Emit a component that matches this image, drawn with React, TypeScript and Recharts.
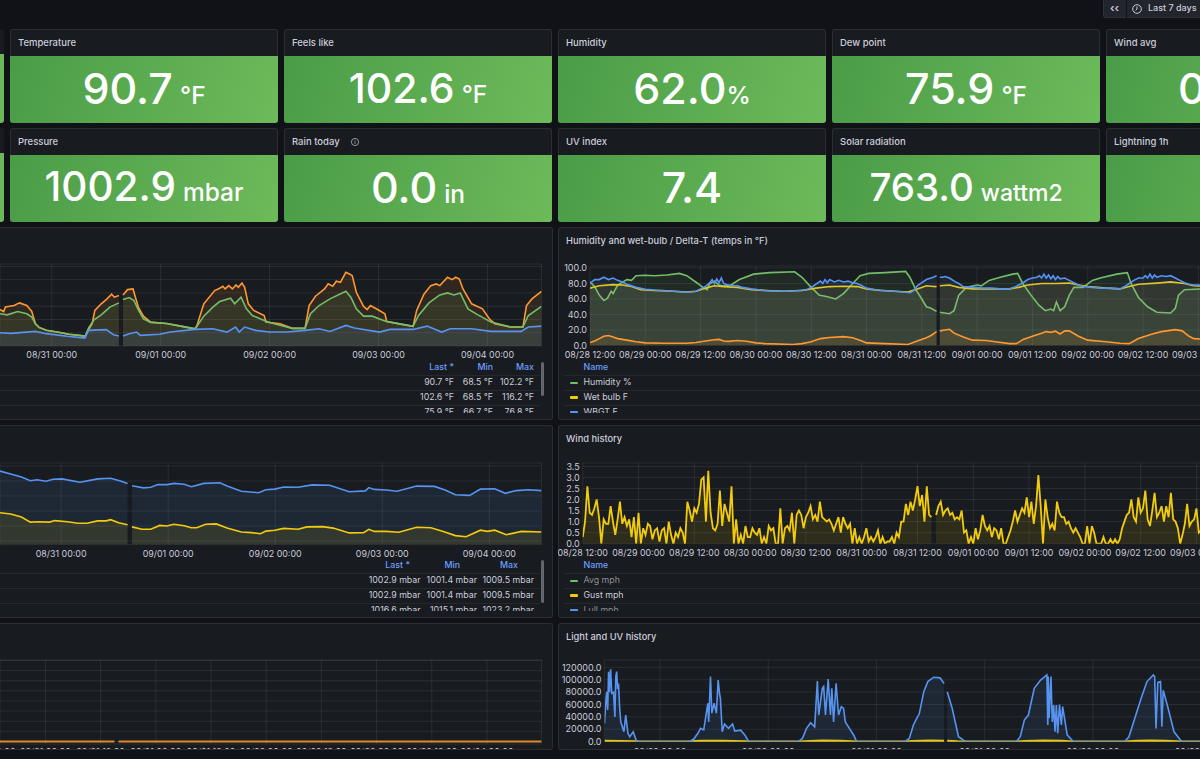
import React from "react";
import { ComposedChart, Area, XAxis, YAxis, CartesianGrid } from "recharts";

type Pair = [number, number | null];

// ---- Temperature history (hours since 08/28 00:00, °F)
const feelsLike: Pair[] = [[60.6,87.5],[61.4,86],[61.8,89.5],[63.7,90.5],[64.9,92.5],[66.5,90.5],[67.6,86],[68.4,76.8],[69.2,74],[70.8,71.8],[73.5,70.3],[75.8,68.8],[79.4,67.5],[79.7,70],[80.9,76.8],[81.5,86.8],[82.9,91.8],[84,95],[85.2,99],[85.8,96.8],[86.8,98],[87.2,null],[87.7,98.5],[88.7,102.5],[89.9,103],[91.1,89],[92.2,82.5],[93.8,78],[97.3,77],[100.4,75],[103.6,73],[104,75.5],[105.5,91.8],[107.9,101.8],[109,103.5],[109.7,105],[110.2,103],[111,105.5],[111.8,103],[112.6,106],[113.1,104.3],[113.9,107.5],[114.5,104.3],[115.3,91.8],[116.5,86.8],[118.8,83],[119.2,78],[122.3,76.8],[125,73.3],[127.8,73.3],[128.7,90.5],[130.1,97.5],[132.1,103],[132.9,106.8],[133.9,105],[134.7,108.8],[135.6,108],[136.8,115.5],[137.6,114.3],[138.2,113],[139.1,100.5],[140.7,89.8],[141.5,87.5],[142.2,90.5],[143.8,87.5],[145.4,84.3],[145.8,78.5],[148.9,76.5],[151.6,74.8],[152.4,86.8],[154,99],[155.5,105.5],[156.7,106.8],[157.5,105.5],[159.2,111.8],[160.2,110],[161,111.8],[161.8,110.5],[162.6,103],[164.5,91.8],[166.9,88],[168.4,80.5],[169.6,76.8],[173.1,74.3],[175.8,74.3],[176.6,90.5],[177.8,95.5],[179.9,101.2]];
const temperature: Pair[] = [[60.6,84.3],[62.2,83.5],[64.5,86],[66.5,84.3],[67.6,81.8],[68.4,76.8],[69.2,74],[70.8,71.8],[73.5,70.3],[75.8,68.8],[79.4,67.5],[80.1,73.5],[81.3,79.8],[82.9,83.5],[84.8,89.3],[86.8,92.5],[87.2,null],[87.7,95],[89.1,96.5],[90.1,94.3],[91.1,87],[92.2,80.5],[93.8,77.8],[97.3,77],[100.4,75],[103.6,73],[105.5,82.5],[107.5,89.3],[109,93.5],[111.4,96],[112.3,91.8],[113.7,96.8],[114.9,88],[116.2,83],[118.8,79.3],[120.4,77.3],[125,73.3],[127.8,73.3],[129,84.3],[130.9,90.5],[133.3,95.5],[136.8,101.3],[137.9,96.8],[139.1,88],[140.7,82.5],[142.6,82.5],[145.4,78.8],[148.9,76.5],[151.6,74.8],[152.8,83],[155.1,92.5],[157.5,98.5],[159.2,100],[160.6,98.5],[162,100],[163.7,88],[165.7,83.8],[168.8,78],[173.1,74.3],[175.8,74.3],[177,83],[179.9,89.8]];
const dewPoint: Pair[] = [[60.6,70],[63,69.5],[68.4,71],[70.8,69.3],[75.4,67.3],[79.3,66],[80.1,71.8],[84,72.3],[85.6,68.5],[86.8,67.5],[87.2,null],[87.7,67.5],[89.1,69.3],[90.7,70.5],[91.5,68],[95.8,68.8],[98.1,70.5],[103.6,72.5],[107.5,73],[110.6,70.5],[112.5,74.3],[113.3,70.5],[114.5,74.3],[116.9,71.8],[120,70.5],[123.9,70.5],[127.8,71.8],[130.9,73],[133.3,71],[136.8,75.5],[138.7,73.5],[144.2,70.5],[146.5,72.5],[151.6,72.5],[154.7,75],[157.9,70.5],[159.8,73],[164.5,73],[168.8,71],[175.4,71],[177,74.3],[179.9,75]];

// ---- Humidity and wet-bulb / Delta-T
const humidity: Pair[] = [[12,82],[13,76],[14,65],[15,58],[15.8,61],[16.6,70],[17,67],[18,78],[20,85],[21,84],[22,90],[24,90.5],[26,90],[28.7,91],[31.4,93],[33,90],[35.4,80],[36.5,75],[37.4,72],[38,80],[39,83],[40,78],[40.7,77],[42.6,78],[44.4,85],[47.5,92],[51,94],[56.4,95],[58,88],[60,75],[61.7,65],[63.5,63],[65.3,60],[67,67],[69,80],[70.6,90],[72.5,93],[76,94],[80.5,95.5],[81.4,88],[82.7,72],[84,60],[85,50],[86,48],[87.2,44],[87.5,null],[87.9,43],[90,41],[91,45],[92,65],[93.7,75],[96,78],[96.9,77],[98.6,84],[101,88],[103.7,92],[104.8,93],[105.9,80],[107.7,65],[109.4,52],[110.8,45],[112,47],[112.6,45],[113.2,56],[114,45],[115,50],[116,65],[117,75],[119,75],[121,84],[122.7,87],[126.3,92],[128.6,94],[129.4,80],[131,62],[133,50],[135,43],[138,42],[139,48],[139.7,65],[141,72],[145,73],[150,74]];
const wetBulb: Pair[] = [[12,74],[14,77],[17,78.5],[19,78],[21,76],[23,72],[26,71],[30,70],[33,69],[35,70],[37,74],[39,77],[41,76],[44,75],[47,72],[50,71],[54,70],[58,71],[61,74],[64,76],[67,76.5],[70,76],[72,73],[75,71],[78,70],[81,69],[83,73],[85,77],[86,76.5],[87.2,76],[87.5,null],[87.9,77],[90,78],[92,75],[95,73],[99,73],[103,73],[105,75],[107,78],[110,80],[113,80],[116,80.5],[118,78],[120,76],[124,74],[127,73],[129,76],[131,79],[135,80.5],[138,82],[141,80],[143,77],[147,76],[150,75]];
const wbgt: Pair[] = [[12,80],[13,85],[14,85],[15,88],[16,85],[17,87],[18,84],[19,82],[20,79],[22,75],[24,72.5],[26,71.5],[28,71],[30,70],[32,69],[34,69],[35,70],[36,73],[37,76],[38,81],[38.5,85],[39,80],[39.5,86],[40,81],[40.5,87],[41,80],[42,78],[43,77],[44,77],[45,75],[47,73],[49,71.5],[51,70.5],[53,70],[55,70],[57,71],[59,72],[60,75],[61,79],[62,83],[62.5,80],[63,85],[63.5,81],[64,85],[65,82],[66,84],[67,82],[68,83],[69,81],[70,80],[71,77],[72,74],[74,72],[76,71],[78,70],[80,69],[81.5,68],[82.5,72],[83,77],[84,81],[85,85],[86,87],[86.5,88],[87.2,90],[87.5,null],[87.9,88],[88.5,88],[89,89],[90,87],[91,83],[92,80],[93,76],[95,75],[97,74],[99,74],[101,73],[103,73],[104,75],[105,78],[106,81],[107,85],[108,87],[109,88],[109.5,90],[110,87],[110.5,92],[111,87],[111.5,91],[112,86],[112.5,90],[113,85],[113.5,89],[114,86],[115,87],[116,84],[117,81],[118,78],[119,76],[121,75],[123,74],[125,74],[127,73],[128,76],[129,80],[130,84],[131,87],[132,87],[132.5,90],[133,87],[133.5,92],[134,87],[134.5,91],[135,88],[136,90],[137,89],[138,90],[139,87],[140,84],[141,81],[142,79],[143,78],[145,78],[147,77],[150,75]];
const deltaT: Pair[] = [[12,4],[13,6],[14,9],[15,12],[16,13],[17,11],[18,9],[20,7],[22,5],[24,3.5],[28,3],[33,3],[35,4],[37,6],[39,7.5],[40,8],[41,6],[42,5.5],[44,6.5],[46,5.5],[48,3.5],[50,2.5],[56,1.5],[58,2.5],[60,5],[62,9],[64,10.5],[67,11.5],[69,10],[71,6],[72,3.5],[76,2.5],[81,1.5],[83,6],[85,10],[86,13],[87.2,18],[87.5,null],[87.9,19],[89,20],[90,21],[91,16],[93,11],[95,7],[98,6.5],[100,5],[103,2.5],[104.5,2.5],[106,8],[108,12],[110,16],[111,18],[112,17],[113,18.5],[114,15],[115,19],[116,19],[118,12],[120,7],[124,5],[127,3],[129,2.5],[131,9],[134,15],[136,18],[139,20.5],[140.5,19],[142,12],[143,9],[146,8],[150,7]];

// ---- Pressure history (mbar)
const stationPressure: Pair[] = [[58.3,1009.4],[60.7,1009],[63.1,1008],[65.1,1006.3],[67,1006.4],[69.4,1006.3],[70.6,1006.8],[73.4,1006.4],[75.8,1005.9],[77.8,1005.9],[80.2,1006.7],[82.1,1006.7],[83.1,1007.1],[84.9,1006.1],[86.9,1005.4],[87.4,null],[87.9,1004.7],[90.1,1003.9],[92.1,1003.9],[94.1,1005.2],[95.7,1005],[97.3,1005.6],[99.6,1005.1],[101.2,1004.4],[102.4,1004.4],[104.4,1005.6],[106.8,1005.7],[109.2,1004.3],[112.4,1003],[114.7,1002.8],[116.7,1002.4],[117.9,1003.3],[119.9,1003.6],[121.9,1004.2],[125.1,1003.9],[127.1,1004.7],[130.6,1004.8],[133,1004.3],[136.6,1002.7],[139.8,1002.8],[141,1003.9],[142.2,1003.2],[144.9,1003.2],[147.7,1002.9],[151.7,1004.6],[154.9,1004.4],[157.7,1003.2],[160.4,1001.8],[162.8,1001.4],[166,1003.6],[167.6,1003.2],[169.2,1003.6],[171.8,1002.1],[175.2,1003.2],[179.7,1003]];
const seaLevelPressure: Pair[] = [[58.3,1023.3],[60.7,1022.3],[63.1,1021.3],[65.1,1020.1],[66.6,1020.4],[68.6,1019.9],[70.2,1020.6],[72.2,1020.7],[76.2,1019.6],[80.2,1020.7],[83.1,1020.9],[85.3,1020],[86.9,1019.2],[87.4,null],[87.9,1018.4],[90.5,1017.7],[92.1,1017.9],[93.7,1018.8],[95.7,1018.8],[97.3,1019.2],[99.6,1018.9],[101.2,1018.1],[104,1019.2],[107.6,1019.4],[109.2,1018.3],[112.4,1016.6],[116.3,1016.1],[117.9,1017.1],[119.9,1017.3],[121.9,1018],[125.1,1017.9],[128.3,1018.7],[132.2,1018.6],[136.6,1016.4],[140.2,1016.7],[141,1017.8],[142.2,1017.2],[144.9,1017],[147.3,1016.6],[151.7,1018.3],[155.7,1018.2],[158.1,1017],[160.4,1015.4],[163.6,1015.2],[166,1017.3],[169.2,1017.4],[171.6,1015.9],[174,1016.8],[176.7,1017.1],[179.7,1016.8]];

// ---- Wind gust (mph), one reading every half hour from 08/28 12:00
const gustMph: (number | null)[] = [0.3,1.0,2.6,1.4,1.3,1.6,2.0,1.2,0.0,1.1,0.9,0.9,1.7,1.0,0.4,1.1,1.9,0.9,1.2,0.8,1.1,0.3,1.2,0.0,
1.4,0.0,0.7,0.4,0.9,0.8,0.2,0.6,0.7,0.1,0.6,0.7,0.0,1.0,0.4,0.0,0.5,0.3,0.7,0.5,0.0,1.9,1.5,1.0,
1.6,1.4,1.8,2.9,3.0,1.0,3.3,1.4,0.7,0.6,0.9,2.4,0.8,1.8,1.4,1.0,2.6,0.0,1.1,0.0,0.4,0.0,0.8,0.3,
0.3,0.7,0.5,0.4,0.7,0.0,0.3,0.0,0.8,0.6,0.7,0.0,0.0,1.6,0.0,0.7,0.8,0.6,1.4,0.0,1.3,1.5,1.3,0.7,
1.2,1.4,1.7,1.1,1.3,1.0,1.9,1.2,1.1,1.0,1.1,0.9,0.6,0.9,1.2,0.5,1.2,0.9,0.7,0.9,0.0,0.7,0.0,0.3,
0.0,0.3,0.7,0.1,0.3,0.1,0.3,0.6,0.0,0.3,0.0,0.1,0.1,0.3,0.0,0.5,0.3,1.0,1.0,1.8,1.3,1.9,1.5,2.0,
2.6,1.7,2.2,1.0,2.6,1.3,1.2,null,1.3,1.7,1.9,1.3,1.5,1.6,1.3,1.4,1.1,1.2,1.1,1.5,0.5,0.6,0.0,0.3,
0.0,0.7,0.2,0.6,1.3,0.8,0.6,0.8,0.3,0.7,0.6,0.2,0.7,0.0,0.0,0.3,0.6,1.0,1.5,1.0,1.3,1.6,1.4,2.1,
1.2,1.9,0.9,1.7,3.1,1.7,0.0,2.0,1.2,0.7,0.9,0.6,1.9,1.4,1.2,1.2,0.9,1.0,0.7,0.5,0.7,0.5,0.3,0.0,
0.0,0.8,0.0,0.8,0.5,0.0,0.0,0.0,0.3,0.0,0.0,0.2,0.0,0.2,0.0,0.2,0.7,1.0,1.3,1.4,2.0,1.2,1.0,2.1,
1.4,1.6,2.4,1.1,0.8,1.5,2.3,1.2,1.4,1.7,1.0,1.7,1.2,2.3,1.1,1.0,0.7,0.0,0.4,0.9,1.8,0.8,1.0,1.1,
1.6,0.5,0.6,1.2,0.8,1.4,0.9,0.0,0.6,1.1,0.8,1.0,0.9];

// ---- Light and UV
const illuminance: Pair[] = [[11.7,29600],[12.05,70000],[12.2,80700],[12.4,51000],[12.6,113000],[12.8,80000],[13.05,116700],[13.3,78000],[13.7,80000],[14,40000],[14.2,105000],[14.4,113000],[14.6,85000],[14.8,94000],[15.06,53800],[15.3,32000],[16,16000],[16.4,43000],[16.9,13500],[17.3,8000],[18.06,16000],[18.7,2700],[19.15,0],[30.5,0],[31.5,4300],[32.4,13500],[33,21500],[33.7,19000],[34.2,43000],[34.6,62000],[34.8,32000],[35.2,105000],[35.5,46000],[36,62000],[36.5,46000],[36.9,99500],[37.2,78000],[37.4,70000],[37.8,16000],[38.3,28500],[39.2,21500],[40.1,28500],[40.6,17000],[41.9,18500],[42.8,11000],[43.7,0],[54.7,0],[55.6,5400],[56.5,21500],[57.4,30700],[58.3,24000],[58.9,98000],[59.2,43000],[60,86000],[60.3,89000],[60.7,43000],[61.3,101000],[61.8,43000],[62.1,86000],[62.5,32000],[63.05,94000],[63.6,43000],[64.2,56500],[64.7,54000],[65.1,32000],[66,21500],[67,10000],[67.6,0],[78.3,0],[79.3,5400],[80.2,27000],[81.1,40000],[81.5,45000],[82.5,80700],[83.4,97000],[84.7,104000],[86.1,103000],[87,94000],[87.2,null],[87.7,80700],[88.8,53800],[90.2,8000],[91.8,0],[103,0],[103.9,8000],[104.8,35000],[105.7,43000],[107,86000],[108.4,99500],[109.8,107600],[110,27000],[110.1,105000],[110.3,38000],[110.7,105000],[111,32000],[111.3,59000],[111.6,16000],[111.9,59000],[112.2,13500],[112.6,60000],[113,27000],[113.3,56500],[114.3,11000],[115.7,0],[127,0],[128,8000],[129.3,38000],[130.7,70000],[132,97000],[133.4,107600],[133.7,105000],[134,21500],[134.4,95700],[135,97000],[135.3,24000],[135.6,83000],[136.6,56500],[138,16000],[139.4,2700],[139.8,0],[143.7,0],[150,0]];
const solarRadiation: Pair[] = [[11.7,900],[18.7,200],[19.2,0],[30.5,0],[31,400],[33,900],[36,1200],[38,1100],[43,200],[43.7,0],[54.7,0],[56,400],[60,1300],[64,1000],[67.6,0],[78.3,0],[80,500],[84,1300],[87,1200],[87.2,null],[87.7,1100],[90,300],[91.8,0],[103,0],[105,700],[109,1400],[113,900],[115.7,0],[127,0],[130,900],[133,1300],[136,1000],[139.8,0],[150,0]];
const flatSeries: Pair[] = [[62.13,0],[87,0],[87.2,null],[87.9,0],[179.85,0]];

// ---- Tick lists
const halfDayTicks = [12,24,36,48,60,72,84,96,108,120,132,144];
const dayTicksLeft = [72,96,120,144,168];
const dayTicksRight = [24,48,72,96,120,144];
const bottomLeftTicks = [60,72,84,96,108,120,132,144,156,168];
const humidityYTicks = [0,20,40,60,80,100];
const tempYTicks = [60,70,80,90,100,110,120];
const pressureYTicks = [1000,1005,1010,1015,1020,1025];
const windYTicks = [0,0.5,1,1.5,2,2.5,3,3.5];
const lightYTicks = [0,20000,40000,60000,80000,100000,120000];
const flatYTicks = [0,1,2,3,4,5,6,7,8];

// ---- Stat panels
const statsTop = [
  { title: "Temperature", value: "90.7", unit: "°F" },
  { title: "Feels like", value: "102.6", unit: "°F" },
  { title: "Humidity", value: "62.0", unit: "%" },
  { title: "Dew point", value: "75.9", unit: "°F" },
  { title: "Wind avg", value: "0.6", unit: "mph" },
];
const statsBottom = [
  { title: "Pressure", value: "1002.9", unit: "mbar" },
  { title: "Rain today", value: "0.0", unit: "in" },
  { title: "UV index", value: "7.4", unit: "" },
  { title: "Solar radiation", value: "763.0", unit: "wattm2" },
  { title: "Lightning 1h", value: "0", unit: "" },
];
const statLefts = [10, 284, 558, 832, 1106];
const valueFontSize: Record<string, number> = { "102.6": 41, "1002.9": 40.5, "763.0": 38.5 };

const tempRows = [["90.7 °F","68.5 °F","102.2 °F"],["102.6 °F","68.5 °F","116.2 °F"],["75.9 °F","66.7 °F","76.8 °F"]];
const pressureRows = [["1002.9 mbar","1001.4 mbar","1009.5 mbar"],["1002.9 mbar","1001.4 mbar","1009.5 mbar"],["1016.6 mbar","1015.1 mbar","1023.2 mbar"]];

const ORANGE = "#FF9830", GREEN = "#73BF69", BLUE = "#5794F2", YELLOW = "#F2CC0C";
const FONT = "Inter, 'Noto Sans', sans-serif";
const TEXT = "#ccccdc";
const HEAD = 8;

const pts = (p: Pair[]) => p.map(([t, v]) => ({ t, v }));
const gustPts = gustMph.map((v, i) => ({ t: 12 + i * 0.5, v }));

const pad = (n: number) => String(n).padStart(2, "0");
function timeLabel(t: number) {
  const d = new Date(Date.UTC(2023, 7, 28, t));
  return `${pad(d.getUTCMonth() + 1)}/${pad(d.getUTCDate())} ${pad(d.getUTCHours())}:00`;
}

type Series = { data: any[]; color: string; width?: number; opacity?: number };
function TimeChart(props: {
  left: number; top: number; plotLeft: number; plotWidth: number; plotHeight: number;
  clipHeight?: number; xDomain: [number, number]; yDomain: [number, number];
  xTicks: number[]; yTicks: number[]; series: Series[]; hideY?: boolean; margin?: number;
}) {
  const { left, top, plotLeft, plotWidth, plotHeight, clipHeight, xDomain, yDomain, xTicks, yTicks, series, hideY, margin } = props;
  const xTickStyle = { fill: TEXT, fontSize: 8.9, fontFamily: FONT };
  const yTickStyle = { fill: TEXT, fontSize: 9, fontFamily: FONT };
  const fullHeight = plotHeight + 24 + HEAD;
  return (
    <div style={{ position: "absolute", left, top: top - HEAD, width: plotLeft + plotWidth, height: clipHeight ? clipHeight + HEAD : fullHeight, overflow: clipHeight ? "hidden" : "visible" }}>
      <ComposedChart width={plotLeft + plotWidth} height={fullHeight} margin={{ top: HEAD, right: 0, bottom: 0, left: hideY ? plotLeft : 0 }} style={{ overflow: "visible" }}>
        <CartesianGrid stroke="rgba(204,204,220,0.1)" strokeWidth={1} />
        <XAxis type="number" dataKey="t" domain={xDomain} ticks={xTicks} interval={0} height={24} allowDataOverflow
          tickFormatter={timeLabel} tick={xTickStyle} tickLine={false} axisLine={false} tickMargin={margin ?? 3} tickSize={3} />
        <YAxis type="number" domain={yDomain} ticks={yTicks} interval={0} allowDataOverflow hide={hideY} width={hideY ? 0 : plotLeft}
          tickFormatter={(v: number) => v.toFixed(1)} tick={yTickStyle} tickLine={false} axisLine={false} tickSize={3} tickMargin={0} />
        {series.map((s, i) => (
          <Area key={i} data={s.data} dataKey="v" type="linear" stroke={s.color} strokeWidth={s.width ?? 1.6}
            fill={s.color} fillOpacity={s.opacity ?? 0.1} dot={false} activeDot={false} isAnimationActive={false} connectNulls={false} />
        ))}
      </ComposedChart>
    </div>
  );
}

const panelStyle = (left: number, top: number, width: number, height: number): React.CSSProperties => ({
  position: "absolute", left, top, width, height, boxSizing: "border-box", background: "#181b1f",
  border: "1px solid rgba(204,204,220,0.1)", borderRadius: 3,
});

function Stat({ left, top, title, value, unit, info }: { left: number; top: number; title: string; value: string; unit: string; info?: boolean }) {
  return (
    <div style={panelStyle(left, top, 268, 94)}>
      <div style={{ position: "absolute", left: 7, top: 6, fontFamily: FONT, fontSize: 9.5, fontWeight: 500, color: TEXT, lineHeight: "14px", whiteSpace: "nowrap" }}>{title}</div>
      {info && (
        <svg style={{ position: "absolute", left: 64, top: 7 }} width="12" height="12" viewBox="0 0 12 12">
          <circle cx="6" cy="6" r="3.6" fill="none" stroke="#9fa1ab" strokeWidth="0.9" />
          <line x1="6" y1="5.4" x2="6" y2="7.8" stroke="#9fa1ab" strokeWidth="0.9" />
          <circle cx="6" cy="4.2" r="0.5" fill="#9fa1ab" />
        </svg>
      )}
      <div style={{ position: "absolute", left: -1, right: -1, top: 26, bottom: -1, borderRadius: "0 0 3px 3px", background: "linear-gradient(105deg,#4a9c47,#6dba5a)", color: "#fff", fontFamily: FONT, display: "flex", justifyContent: "center", alignItems: "baseline", paddingTop: 7, boxSizing: "border-box", whiteSpace: "nowrap", lineHeight: "50px" }}>
        <span style={{ fontSize: valueFontSize[value] ?? 43, fontWeight: 500 }}>{value}</span>
        {unit && <span style={{ fontSize: unit === "wattm2" ? 23 : 24.5, fontWeight: 500, marginLeft: unit === "%" ? 0 : 7 }}>{unit}</span>}
      </div>
    </div>
  );
}

const txt = (left: number, top: number, s: string, extra: React.CSSProperties = {}) => (
  <div key={s + left} style={{ position: "absolute", left, top, fontFamily: FONT, fontSize: 8.8, color: TEXT, lineHeight: "12px", whiteSpace: "nowrap", ...extra }}>{s}</div>
);
const rightTxt = (right: number, top: number, s: string, extra: React.CSSProperties = {}) => (
  <div key={s + right + top} style={{ position: "absolute", left: right - 120, width: 120, textAlign: "right", top, fontFamily: FONT, fontSize: 8.8, color: TEXT, lineHeight: "12px", whiteSpace: "nowrap", ...extra }}>{s}</div>
);
const HDR = "#6E9FFF";
const HDR_LABELS = ["Last *", "Min", "Max"];

function RightLegend({ top, cols, hdrRight, rows, scrollTop, scrollH }: { top: number; cols: number[]; hdrRight: number[]; rows: string[][]; scrollTop: number; scrollH: number }) {
  return (
    <>
      {hdrRight.map((r, i) => rightTxt(r, top - 6, HDR_LABELS[i], { color: HDR, fontWeight: 500 }))}
      <div style={{ position: "absolute", left: 0, top: top, width: 541, height: 46, overflow: "hidden" }}>
        {rows.map((_, r) => (
          <div key={r} style={{ position: "absolute", left: 0, width: 540, top: 8 + r * 14.8, height: 1, background: "rgba(204,204,220,0.08)" }} />
        ))}
        {rows.map((row, r) => row.map((c, j) => rightTxt(cols[j], 9 + r * 14.8, c)))}
      </div>
      <div style={{ position: "absolute", left: 541, top: scrollTop, width: 3, height: scrollH, borderRadius: 2, background: "#63666c" }} />
    </>
  );
}

function LeftLegend({ top, rows }: { top: number; rows: { name: string; color: string; dim?: boolean }[] }) {
  return (
    <>
      {txt(583.5, top - 6, "Name", { color: HDR, fontWeight: 500 })}
      <div style={{ position: "absolute", left: 564, top, width: 640, height: 46, overflow: "hidden" }}>
        {rows.map((r, i) => (
          <React.Fragment key={i}>
            <div style={{ position: "absolute", left: 0, width: 640, top: 8 + i * 14.8, height: 1, background: "rgba(204,204,220,0.08)" }} />
            <div style={{ position: "absolute", left: 5.5, width: 8.5, top: 14.5 + i * 14.8, height: 2.5, borderRadius: 1, background: r.color }} />
            {txt(19.5, 9 + i * 14.8, r.name, { color: r.dim ? "#8d8e97" : TEXT })}
          </React.Fragment>
        ))}
      </div>
    </>
  );
}

export default function App() {
  return (
    <div style={{ position: "fixed", left: 0, top: 0, width: 1200, height: 759, overflow: "hidden", background: "#111217" }}>
      {/* time controls */}
      <div style={{ position: "absolute", left: 1103, top: -3, width: 110, height: 21, background: "#22252b", border: "1px solid rgba(204,204,220,0.08)", borderRadius: 3, boxSizing: "border-box" }} />
      <div style={{ position: "absolute", left: 1126, top: 0, width: 1, height: 18, background: "#111217" }} />
      {txt(1110, 2, "‹‹", { fontSize: 11, fontWeight: 600 })}
      <svg style={{ position: "absolute", left: 1131, top: 3 }} width="12" height="12" viewBox="0 0 12 12">
        <circle cx="6" cy="6" r="4.3" fill="none" stroke={TEXT} strokeWidth="1" />
        <path d="M6 3.4V6L4.6 7.4" fill="none" stroke={TEXT} strokeWidth="1" />
      </svg>
      {txt(1148, 2, "Last 7 days", { fontSize: 9, fontWeight: 500 })}

      {/* cut-off left stat panels */}
      <div style={{ position: "absolute", left: -20, top: 29, width: 24, height: 94, background: "linear-gradient(#181b1f 27%, #6cb95a 27%)", borderRadius: 3 }} />
      <div style={{ position: "absolute", left: -20, top: 128, width: 24, height: 94, background: "linear-gradient(#181b1f 27%, #6cb95a 27%)", borderRadius: 3 }} />
      {statsTop.map((s, i) => <Stat key={s.title} top={29} left={statLefts[i]} {...s} />)}
      {statsBottom.map((s, i) => <Stat key={s.title} top={128} left={statLefts[i]} {...s} info={s.title === "Rain today"} />)}

      {/* Chart panels */}
      <div style={panelStyle(-30, 227, 583, 193)} />
      <div style={panelStyle(558, 227, 700, 193)} />
      <div style={panelStyle(-30, 425, 583, 193)} />
      <div style={panelStyle(558, 425, 700, 193)} />
      <div style={panelStyle(-30, 623, 583, 126.5)} />
      <div style={panelStyle(558, 623, 700, 126.5)} />

      {txt(566, 234.5, "Humidity and wet-bulb / Delta-T (temps in °F)", { fontSize: 9.3, fontWeight: 500 })}
      {txt(566, 433, "Wind history", { fontSize: 9.3, fontWeight: 500 })}
      {txt(566, 631, "Light and UV history", { fontSize: 9.3, fontWeight: 500 })}

      <TimeChart left={0} top={264} plotLeft={0} plotWidth={541.5} plotHeight={82} hideY
        xDomain={[60.6, 179.9]} yDomain={[60, 121.8]} xTicks={dayTicksLeft} yTicks={tempYTicks}
        series={[
          { data: pts(feelsLike), color: ORANGE },
          { data: pts(temperature), color: GREEN },
          { data: pts(dewPoint), color: BLUE },
        ]} />
      <TimeChart left={558} top={265.7} plotLeft={32} plotWidth={636} plotHeight={79.6}
        xDomain={[12, 150]} yDomain={[0, 102.5]} xTicks={halfDayTicks} yTicks={humidityYTicks}
        series={[
          { data: pts(humidity), color: GREEN },
          { data: pts(wetBulb), color: YELLOW },
          { data: pts(wbgt), color: BLUE },
          { data: pts(deltaT), color: ORANGE },
        ]} />
      <TimeChart left={0} top={462.7} plotLeft={0} plotWidth={541.5} plotHeight={81.6} hideY
        xDomain={[58.3, 179.7]} yDomain={[998.8, 1026]} xTicks={dayTicksLeft} yTicks={pressureYTicks}
        series={[
          { data: pts(seaLevelPressure), color: BLUE },
          { data: pts(stationPressure), color: YELLOW },
        ]} />
      <TimeChart left={558} top={463} plotLeft={24.7} plotWidth={641.7} plotHeight={80.7}
        xDomain={[12, 150]} yDomain={[0, 3.65]} xTicks={halfDayTicks} yTicks={windYTicks}
        series={[{ data: gustPts, color: YELLOW, width: 1.8 }]} />
      <TimeChart left={0} top={660} plotLeft={0} plotWidth={541.5} plotHeight={84} clipHeight={89} hideY margin={2}
        xDomain={[62.13, 179.85]} yDomain={[-0.25, 8.05]} xTicks={bottomLeftTicks} yTicks={flatYTicks}
        series={[{ data: pts(flatSeries), color: "#E08A2A", width: 2 }]} />
      <TimeChart left={558} top={660} plotLeft={46.5} plotWidth={623.7} plotHeight={81.7} clipHeight={89} margin={4}
        xDomain={[11.7, 150]} yDomain={[0, 131800]} xTicks={dayTicksRight} yTicks={lightYTicks}
        series={[
          { data: pts(solarRadiation), color: YELLOW, width: 2.6 },
          { data: pts(illuminance), color: BLUE },
        ]} />

      <RightLegend top={367} cols={[454, 493, 534]} hdrRight={[454, 493, 534]} rows={tempRows} scrollTop={362} scrollH={34} />
      <RightLegend top={565} cols={[420.6, 477, 534]} hdrRight={[410, 460, 518]} rows={pressureRows} scrollTop={560} scrollH={43} />
      <LeftLegend top={367} rows={[{ name: "Humidity %", color: GREEN }, { name: "Wet bulb F", color: YELLOW }, { name: "WBGT F", color: BLUE }]} />
      <LeftLegend top={565} rows={[{ name: "Avg mph", color: GREEN, dim: true }, { name: "Gust mph", color: YELLOW }, { name: "Lull mph", color: BLUE, dim: true }]} />
    </div>
  );
}
